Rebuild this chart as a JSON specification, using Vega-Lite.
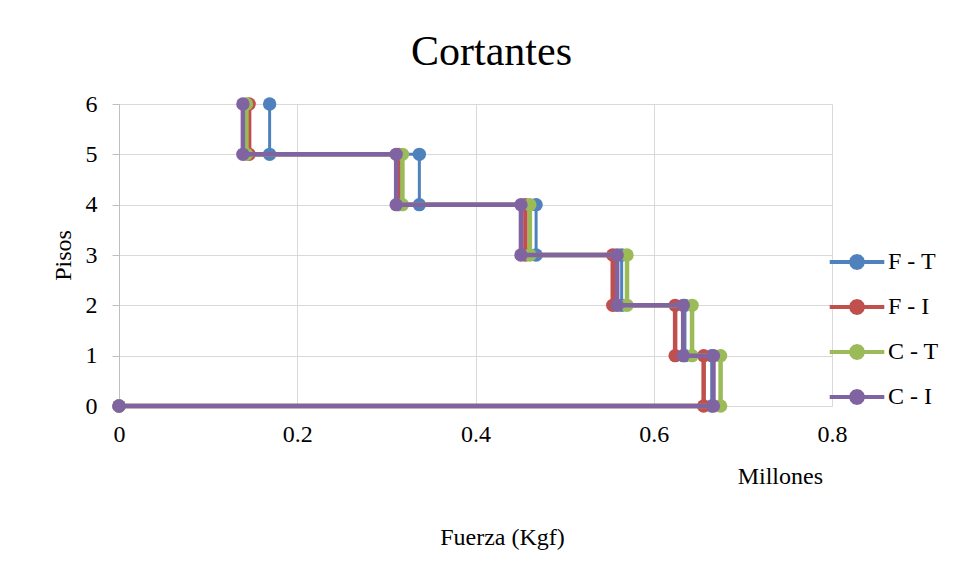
{
  "$schema": "https://vega.github.io/schema/vega-lite/v6.json",
  "width": 713,
  "height": 302,
  "autosize": {"type": "none"},
  "padding": {"left": 119, "top": 104, "right": 129, "bottom": 171},
  "background": "white",
  "title": {"text": "Cortantes", "fontSize": 42, "font": "Liberation Serif", "fontWeight": "normal", "color": "#000000", "anchor": "middle", "offset": 18, "dx": 16},
  "config": {"font": "Liberation Serif", "view": {"stroke": null}},
  "layer": [
    {
      "data": {"values": [
        {"serie": "F - T", "i": 0, "fuerza": 0, "piso": 0},
        {"serie": "F - T", "i": 1, "fuerza": 0.665, "piso": 0},
        {"serie": "F - T", "i": 2, "fuerza": 0.665, "piso": 1},
        {"serie": "F - T", "i": 3, "fuerza": 0.635, "piso": 1},
        {"serie": "F - T", "i": 4, "fuerza": 0.635, "piso": 2},
        {"serie": "F - T", "i": 5, "fuerza": 0.564, "piso": 2},
        {"serie": "F - T", "i": 6, "fuerza": 0.564, "piso": 3},
        {"serie": "F - T", "i": 7, "fuerza": 0.468, "piso": 3},
        {"serie": "F - T", "i": 8, "fuerza": 0.468, "piso": 4},
        {"serie": "F - T", "i": 9, "fuerza": 0.337, "piso": 4},
        {"serie": "F - T", "i": 10, "fuerza": 0.337, "piso": 5},
        {"serie": "F - T", "i": 11, "fuerza": 0.169, "piso": 5},
        {"serie": "F - T", "i": 12, "fuerza": 0.169, "piso": 6},
        {"serie": "F - I", "i": 0, "fuerza": 0, "piso": 0},
        {"serie": "F - I", "i": 1, "fuerza": 0.656, "piso": 0},
        {"serie": "F - I", "i": 2, "fuerza": 0.656, "piso": 1},
        {"serie": "F - I", "i": 3, "fuerza": 0.624, "piso": 1},
        {"serie": "F - I", "i": 4, "fuerza": 0.624, "piso": 2},
        {"serie": "F - I", "i": 5, "fuerza": 0.554, "piso": 2},
        {"serie": "F - I", "i": 6, "fuerza": 0.554, "piso": 3},
        {"serie": "F - I", "i": 7, "fuerza": 0.456, "piso": 3},
        {"serie": "F - I", "i": 8, "fuerza": 0.456, "piso": 4},
        {"serie": "F - I", "i": 9, "fuerza": 0.314, "piso": 4},
        {"serie": "F - I", "i": 10, "fuerza": 0.314, "piso": 5},
        {"serie": "F - I", "i": 11, "fuerza": 0.146, "piso": 5},
        {"serie": "F - I", "i": 12, "fuerza": 0.146, "piso": 6},
        {"serie": "C - T", "i": 0, "fuerza": 0, "piso": 0},
        {"serie": "C - T", "i": 1, "fuerza": 0.675, "piso": 0},
        {"serie": "C - T", "i": 2, "fuerza": 0.675, "piso": 1},
        {"serie": "C - T", "i": 3, "fuerza": 0.643, "piso": 1},
        {"serie": "C - T", "i": 4, "fuerza": 0.643, "piso": 2},
        {"serie": "C - T", "i": 5, "fuerza": 0.570, "piso": 2},
        {"serie": "C - T", "i": 6, "fuerza": 0.570, "piso": 3},
        {"serie": "C - T", "i": 7, "fuerza": 0.461, "piso": 3},
        {"serie": "C - T", "i": 8, "fuerza": 0.461, "piso": 4},
        {"serie": "C - T", "i": 9, "fuerza": 0.318, "piso": 4},
        {"serie": "C - T", "i": 10, "fuerza": 0.318, "piso": 5},
        {"serie": "C - T", "i": 11, "fuerza": 0.143, "piso": 5},
        {"serie": "C - T", "i": 12, "fuerza": 0.143, "piso": 6},
        {"serie": "C - I", "i": 0, "fuerza": 0, "piso": 0},
        {"serie": "C - I", "i": 1, "fuerza": 0.667, "piso": 0},
        {"serie": "C - I", "i": 2, "fuerza": 0.667, "piso": 1},
        {"serie": "C - I", "i": 3, "fuerza": 0.633, "piso": 1},
        {"serie": "C - I", "i": 4, "fuerza": 0.633, "piso": 2},
        {"serie": "C - I", "i": 5, "fuerza": 0.559, "piso": 2},
        {"serie": "C - I", "i": 6, "fuerza": 0.559, "piso": 3},
        {"serie": "C - I", "i": 7, "fuerza": 0.451, "piso": 3},
        {"serie": "C - I", "i": 8, "fuerza": 0.451, "piso": 4},
        {"serie": "C - I", "i": 9, "fuerza": 0.311, "piso": 4},
        {"serie": "C - I", "i": 10, "fuerza": 0.311, "piso": 5},
        {"serie": "C - I", "i": 11, "fuerza": 0.139, "piso": 5},
        {"serie": "C - I", "i": 12, "fuerza": 0.139, "piso": 6}
      ]},
      "encoding": {
        "x": {"field": "fuerza", "type": "quantitative",
          "scale": {"domain": [0, 0.8], "nice": false},
          "axis": {"values": [0, 0.2, 0.4, 0.6, 0.8], "format": ".1~f", "title": "Fuerza (Kgf)", "titleFontSize": 24, "titleFontWeight": "normal", "titleColor": "#000000", "titleFont": "Liberation Serif",
            "titleX": 383, "titleY": 131, "titleBaseline": "middle",
            "labelFontSize": 24, "labelColor": "#000000", "labelFont": "Liberation Serif", "labelPadding": 16, "labelFlush": false, "ticks": false,
            "domainColor": "#d9d9d9", "gridColor": "#d9d9d9", "gridOpacity": 1}},
        "y": {"field": "piso", "type": "quantitative",
          "scale": {"domain": [0, 6], "nice": false},
          "axis": {"values": [0, 1, 2, 3, 4, 5, 6], "title": "Pisos", "titleFontSize": 24, "titleFontWeight": "normal", "titleColor": "#000000", "titleFont": "Liberation Serif", "titlePadding": 10,
            "labelFontSize": 24, "labelColor": "#000000", "labelFont": "Liberation Serif", "labelPadding": 15, "labelFlush": false,
            "tickSize": 7, "tickColor": "#bfbfbf", "domainColor": "#bfbfbf", "gridColor": "#d9d9d9", "gridOpacity": 1}},
        "order": {"field": "i", "type": "quantitative"},
        "color": {"field": "serie", "type": "nominal",
          "scale": {"domain": ["F - T", "F - I", "C - T", "C - I"], "range": ["#4F81BD", "#C0504D", "#9BBB59", "#8064A2"]},
          "legend": {"orient": "none", "legendX": 726, "legendY": 146, "title": null,
            "symbolType": "M-3.9,0L3.9,0M0.85,0L0.736,0.425L0.425,0.736L0,0.85L-0.425,0.736L-0.736,0.425L-0.85,0L-0.736,-0.425L-0.425,-0.736L0,-0.85L0.425,-0.736L0.736,-0.425ZM0.55,0L0.476,0.275L0.275,0.476L0,0.55L-0.275,0.476L-0.476,0.275L-0.55,0L-0.476,-0.275L-0.275,-0.476L0,-0.55L0.275,-0.476L0.476,-0.275ZM0.25,0L0,0.25L-0.25,0L0,-0.25Z",
            "symbolSize": 196, "symbolStrokeWidth": 4, "symbolOpacity": 1,
            "labelFontSize": 24, "labelColor": "#000000", "labelFont": "Liberation Serif", "labelOffset": 19, "rowPadding": 17}}
      },
      "layer": [
        {"transform": [{"filter": "datum.serie === 'F - T'"}], "mark": {"type": "line", "strokeWidth": 3, "strokeJoin": "round", "strokeCap": "round"}},
        {"transform": [{"filter": "datum.serie === 'F - T'"}], "mark": {"type": "point", "filled": true, "size": 180, "opacity": 1}, "encoding": {"color": {"field": "serie", "type": "nominal", "legend": null}}},
        {"transform": [{"filter": "datum.serie === 'F - I'"}], "mark": {"type": "line", "strokeWidth": 4.5, "strokeJoin": "round", "strokeCap": "round"}},
        {"transform": [{"filter": "datum.serie === 'F - I'"}], "mark": {"type": "point", "filled": true, "size": 180, "opacity": 1}, "encoding": {"color": {"field": "serie", "type": "nominal", "legend": null}}},
        {"transform": [{"filter": "datum.serie === 'C - T'"}], "mark": {"type": "line", "strokeWidth": 4.5, "strokeJoin": "round", "strokeCap": "round"}},
        {"transform": [{"filter": "datum.serie === 'C - T'"}], "mark": {"type": "point", "filled": true, "size": 180, "opacity": 1}, "encoding": {"color": {"field": "serie", "type": "nominal", "legend": null}}},
        {"transform": [{"filter": "datum.serie === 'C - I'"}], "mark": {"type": "line", "strokeWidth": 4.5, "strokeJoin": "round", "strokeCap": "round"}},
        {"transform": [{"filter": "datum.serie === 'C - I'"}], "mark": {"type": "point", "filled": true, "size": 180, "opacity": 1}, "encoding": {"color": {"field": "serie", "type": "nominal", "legend": null}}}
      ]
    },
    {
      "data": {"values": [{"nota": "Millones", "fuerza": 0.8, "piso": 0}]},
      "mark": {"type": "text", "font": "Liberation Serif", "fontSize": 24, "align": "right", "baseline": "middle", "dx": -9, "dy": 71, "fill": "#000000"},
      "encoding": {
        "x": {"field": "fuerza", "type": "quantitative"},
        "y": {"field": "piso", "type": "quantitative"},
        "text": {"field": "nota", "type": "nominal"}
      }
    }
  ]
}
